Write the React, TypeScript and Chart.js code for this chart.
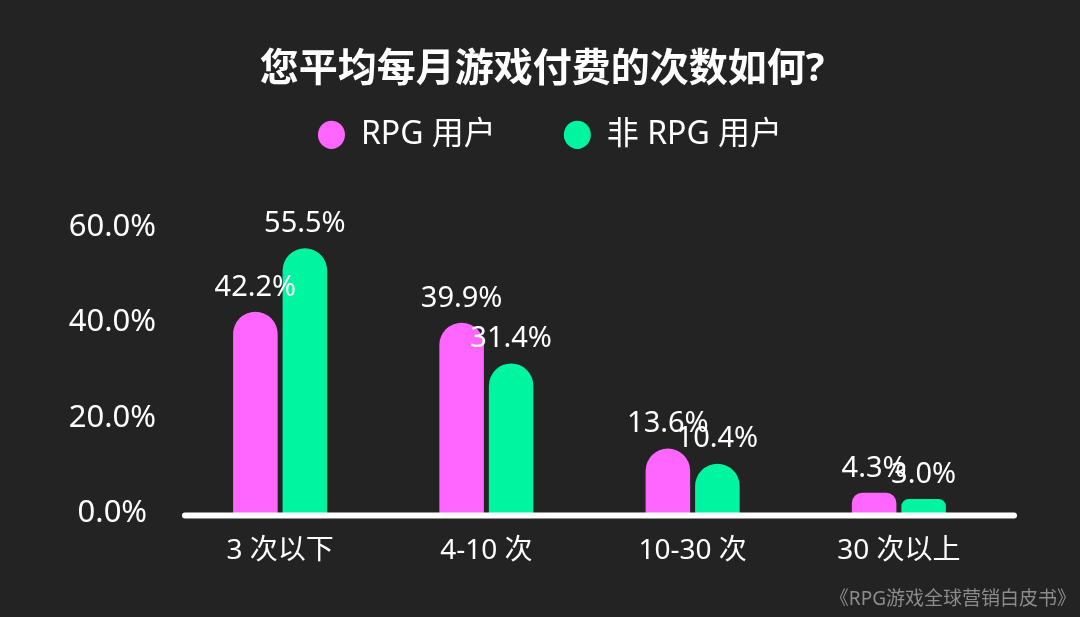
import { useEffect, useRef } from "react"
import { Chart, registerables } from "chart.js"
import type { Plugin } from "chart.js"

Chart.register(...registerables)

// Data
const categories = ["3 次以下", "4-10 次", "10-30 次", "30 次以上"]
const seriesNames = ["RPG 用户", "非 RPG 用户"]
const rpgUsers = [42.2, 39.9, 13.6, 4.3]
const nonRpgUsers = [55.5, 31.4, 10.4, 3.0]
const yMax = 60
const yStep = 20
const titleText = "您平均每月游戏付费的次数如何?"
const sourceText = "《RPG游戏全球营销白皮书》"

const FONT = "'Noto Sans', 'Noto Sans CJK SC', sans-serif"
const PINK = "#ff66ff"
const GREEN = "#00f5a0"

// extra room under the legend, and nudge title/legend a little to the right
const headerLayout: Plugin<"bar"> = {
  id: "headerLayout",
  beforeInit(chart) {
    const legend = chart.legend as any
    if (!legend) return
    const fit = legend.fit
    legend.fit = function () {
      fit.call(this)
      this.height += 66
    }
  },
  afterLayout(chart) {
    const title = (chart as any).titleBlock
    const legend = chart.legend as any
    if (title) {
      title.left += 10
      title.right += 10
    }
    if (legend) {
      legend.left += 18
      legend.right += 18
    }
  },
}

// value labels above bars, the white baseline and the source note
const decorations: Plugin<"bar"> = {
  id: "decorations",
  afterDatasetsDraw(chart) {
    const { ctx, chartArea, scales } = chart
    const zeroY = scales.y.getPixelForValue(0)
    ctx.save()
    ctx.strokeStyle = "#ffffff"
    ctx.lineWidth = 6
    ctx.lineCap = "round"
    ctx.beginPath()
    ctx.moveTo(chartArea.left + 8, zeroY + 2)
    ctx.lineTo(chartArea.right + 12, zeroY + 2)
    ctx.stroke()

    ctx.fillStyle = "#ffffff"
    ctx.font = `29px ${FONT}`
    ctx.textAlign = "center"
    ctx.textBaseline = "bottom"
    chart.data.datasets.forEach((ds, i) => {
      chart.getDatasetMeta(i).data.forEach((bar, j) => {
        const v = ds.data[j] as number
        ctx.fillText(`${v.toFixed(1)}%`, bar.x, bar.y - 10)
      })
    })

    ctx.fillStyle = "#8c8c8c"
    ctx.font = `19px ${FONT}`
    ctx.textAlign = "right"
    ctx.textBaseline = "alphabetic"
    ctx.fillText(sourceText, chart.width - 4, chart.height - 12)
    ctx.restore()
  },
}

export default function App() {
  const chartRef = useRef<HTMLCanvasElement>(null)
  const chartInstance = useRef<Chart | null>(null)

  useEffect(() => {
    if (!chartRef.current) return
    if (chartInstance.current) chartInstance.current.destroy()
    const ctx = chartRef.current.getContext("2d")
    if (!ctx) return

    chartInstance.current = new Chart(ctx, {
      type: "bar",
      data: {
        labels: categories,
        datasets: [
          {
            label: seriesNames[0],
            data: rpgUsers,
            backgroundColor: PINK,
            borderRadius: 30,
            borderSkipped: "start",
            categoryPercentage: 0.48,
            barPercentage: 0.9,
          },
          {
            label: seriesNames[1],
            data: nonRpgUsers,
            backgroundColor: GREEN,
            borderRadius: 30,
            borderSkipped: "start",
            categoryPercentage: 0.48,
            barPercentage: 0.9,
          },
        ],
      },
      options: {
        responsive: true,
        maintainAspectRatio: false,
        animation: false,
        layout: { padding: { left: 62, right: 78, top: 0, bottom: 28 } },
        plugins: {
          title: {
            display: true,
            text: titleText,
            color: "#ffffff",
            font: { family: FONT, size: 39, weight: "bold" },
            padding: { top: 46, bottom: -42 },
          },
          legend: {
            display: true,
            position: "top",
            labels: {
              color: "#ffffff",
              font: { family: FONT, size: 32 },
              usePointStyle: true,
              pointStyle: "circle",
              boxHeight: 20,
              pointStyleWidth: 27,
              padding: 68,
            },
          },
          tooltip: { enabled: false },
        },
        scales: {
          x: {
            grid: { display: false, drawTicks: false },
            border: { display: false },
            ticks: {
              color: "#ffffff",
              font: { family: FONT, size: 28 },
              padding: 21,
            },
          },
          y: {
            min: 0,
            max: yMax,
            grid: { display: false, drawTicks: false },
            border: { display: false },
            afterFit: (scale) => {
              scale.width = 115
            },
            ticks: {
              stepSize: yStep,
              color: "#ffffff",
              font: { family: FONT, size: 31 },
              padding: 21,
              crossAlign: "center",
              callback: (v) => `${Number(v).toFixed(1)}%`,
            },
          },
        },
      },
      plugins: [headerLayout, decorations],
    })

    return () => {
      if (chartInstance.current) {
        chartInstance.current.destroy()
        chartInstance.current = null
      }
    }
  }, [])

  return (
    <div
      style={{
        position: "fixed",
        left: 0,
        top: 0,
        width: 1080,
        height: 617,
        background: "#232323",
      }}
    >
      <canvas ref={chartRef} />
    </div>
  )
}
